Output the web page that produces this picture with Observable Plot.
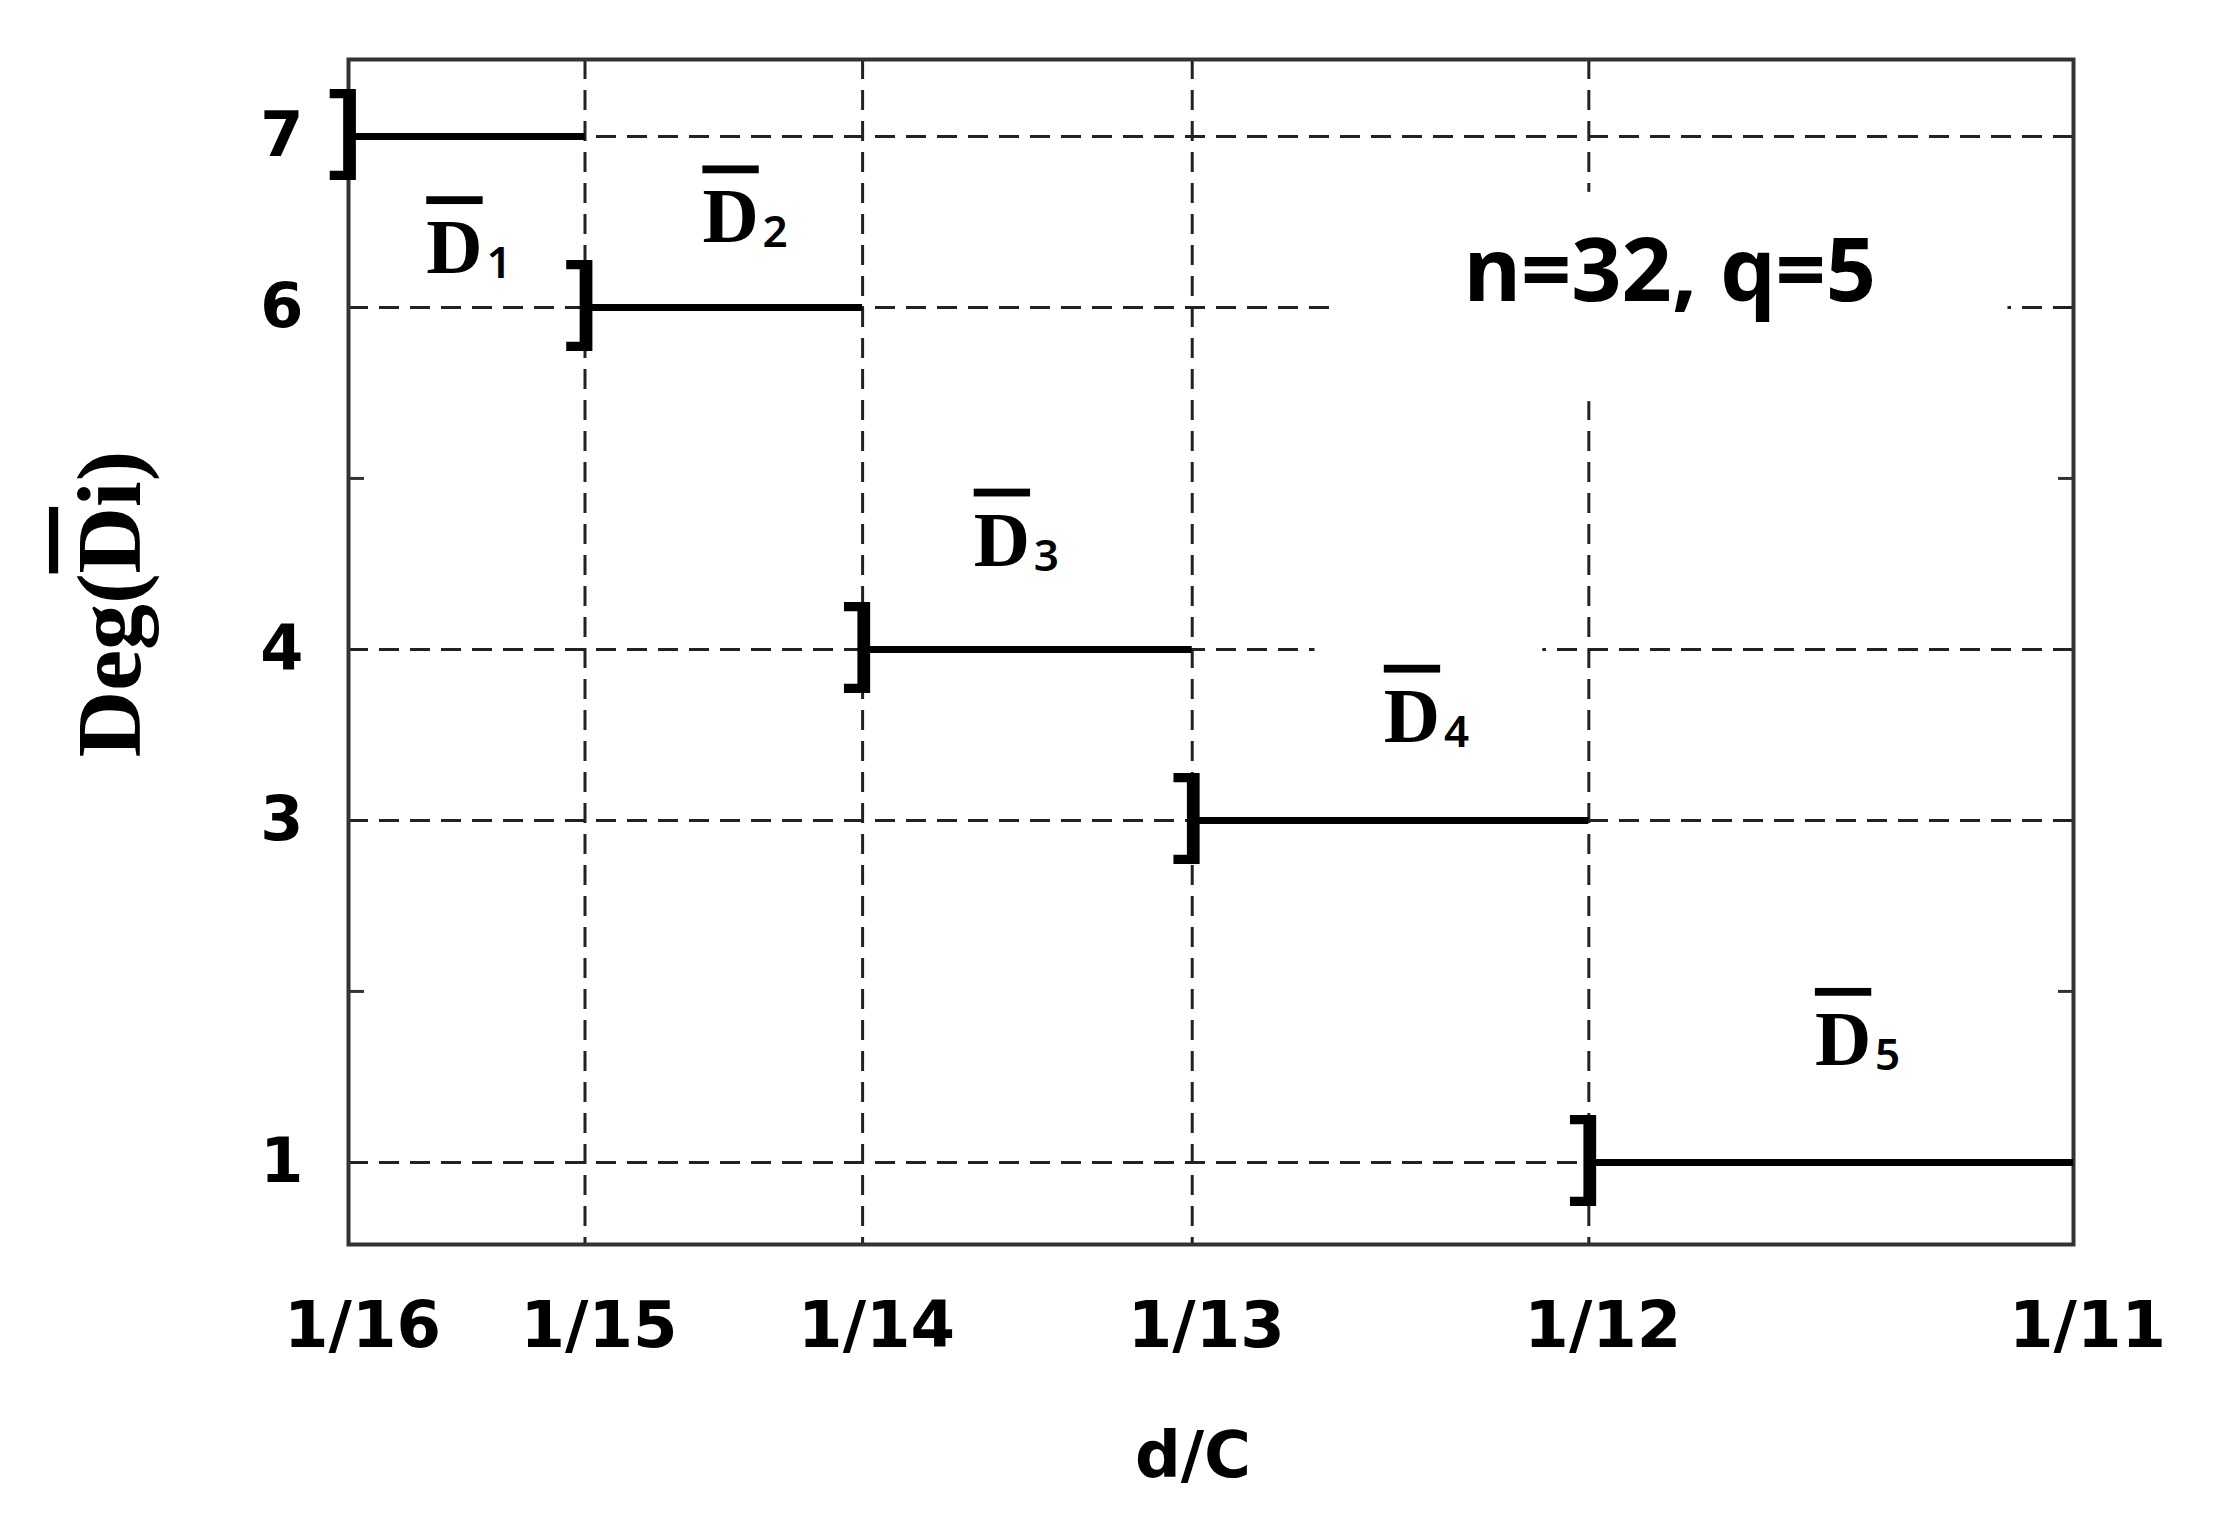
<!DOCTYPE html>
<html>
<head>
<meta charset="utf-8">
<script src="https://cdn.jsdelivr.net/npm/d3@7"></script>
<script src="https://cdn.jsdelivr.net/npm/@observablehq/plot@0.6"></script>
<style>
  html, body { margin: 0; padding: 0; background: #fff; }
  #chart svg { display: block; }
</style>
</head>
<body>
<div id="chart"></div>
<script>
// ---- data ----
const xDenominators = [16, 15, 14, 13, 12, 11];
const xTickLabels = ["1/16", "1/15", "1/14", "1/13", "1/12", "1/11"];
const yTicks = [7, 6, 4, 3, 1];
const yMinorTicks = [5, 2];

const stepStart = [1/16, 1/15, 1/14, 1/13, 1/12];
const stepEnd = [1/15, 1/14, 1/13, 1/12, 1/11];
const stepDegree = [7, 6, 4, 3, 1];

const labelIndex = ["1", "2", "3", "4", "5"];
const labelX = [0.06438, 0.06918, 0.07377, 0.08050, 0.08734];
const labelY = [6.20, 6.38, 4.49, 3.46, 1.57];

const noteText = ["n=32, q=5"];
const noteX = [0.08462];
const noteY = [6.036];

// white backing boxes of the annotations (data units)
const boxX1 = [0.07923, 0.07893];
const boxX2 = [0.08990, 0.08260];
const boxY1 = [6.673, 4.15];
const boxY2 = [5.449, 3.35];

const xAxisTitle = "d/C";
const yAxisTitle = "Deg(Di)";

// ---- tables ----
const xTickValues = xDenominators.map(d => 1 / d);
const xFmt = new Map(xTickValues.map((v, i) => [v, xTickLabels[i]]));
const steps = stepStart.map((s, i) => ({x1: s, x2: stepEnd[i], y: stepDegree[i]}));
const labels = labelX.map((x, i) => ({x, y: labelY[i], sub: labelIndex[i]}));
const notes = noteText.map((t, i) => ({x: noteX[i], y: noteY[i], t}));
const boxes = boxX1.map((x1, i) => ({x1, x2: boxX2[i], y1: boxY1[i], y2: boxY2[i]}));

const grid = {stroke: "#222", strokeWidth: 3, strokeDasharray: "20,11"};
const sansBold = {fontFamily: "DejaVu Sans", fontWeight: "bold", fill: "#000"};

const chart = Plot.plot({
  width: 2217,
  height: 1519,
  marginLeft: 348,
  marginRight: 144,
  marginTop: 59,
  marginBottom: 275,
  style: {background: "#fff", overflow: "visible", color: "#000"},
  x: {type: "pow", exponent: 1.4, domain: [1/16, 1/11], axis: null},
  y: {domain: [0.52, 7.45], axis: null},
  marks: [
    Plot.ruleX(xTickValues.slice(1, -1), grid),
    Plot.ruleY(yTicks, grid),
    Plot.rect(boxes, {x1: "x1", x2: "x2", y1: "y1", y2: "y2", fill: "#fff"}),
    Plot.frame({stroke: "#333", strokeWidth: 4}),
    Plot.axisY(yMinorTicks, {anchor: "left", tickSize: 16, dx: 16, strokeWidth: 3, stroke: "#333", tickFormat: () => "", label: null}),
    Plot.axisY(yMinorTicks, {anchor: "right", tickSize: 16, dx: -16, strokeWidth: 3, stroke: "#333", tickFormat: () => "", label: null}),
    Plot.axisY(yTicks, {anchor: "left", tickSize: 0, tickPadding: 45, fontSize: 62, ...sansBold, tickFormat: d => String(d), label: null}),
    Plot.axisX(xTickValues, {anchor: "bottom", tickSize: 0, tickPadding: 57, dx: 14, fontSize: 64, ...sansBold, tickFormat: d => xFmt.get(d), label: null}),
    Plot.ruleY(steps, {x1: "x1", x2: "x2", y: "y", stroke: "#000", strokeWidth: 7}),
    Plot.text(steps, {x: "x1", y: "y", text: () => "]", fontFamily: "Liberation Sans", fontWeight: "bold", fontSize: 99, textAnchor: "end", lineAnchor: "bottom", dx: 13, dy: 24, fill: "#000"}),
    Plot.text(labels, {x: "x", y: "y", text: () => "D", fontFamily: "Liberation Serif", fontWeight: "bold", fontSize: 78, textAnchor: "middle", lineAnchor: "bottom", fill: "#000"}),
    Plot.text(labels, {x: "x", y: "y", text: "sub", fontFamily: "Noto Sans", fontWeight: 600, fontSize: 44, textAnchor: "start", lineAnchor: "bottom", dx: 32, dy: 5, fill: "#000"}),
    Plot.text(notes, {x: "x", y: "y", text: "t", fontFamily: "Noto Sans", fontWeight: "bold", fontSize: 88, textAnchor: "middle", lineAnchor: "bottom", fill: "#000"}),
    Plot.text([xAxisTitle], {frameAnchor: "bottom", text: d => d, dy: 212, dx: -18, lineAnchor: "middle", fontSize: 64, ...sansBold}),
    Plot.text([yAxisTitle], {frameAnchor: "left", text: d => d, rotate: -90, dx: -238, dy: -48, lineAnchor: "middle", textAnchor: "middle", fontFamily: "Liberation Serif", fontWeight: "bold", fontSize: 92, fill: "#000"})
  ]
});

document.getElementById("chart").appendChild(chart);

// overlines on the "D" glyphs
const NS = "http://www.w3.org/2000/svg";
chart.querySelectorAll("text").forEach(t => {
  if (t.textContent === "D") {
    t.style.textDecoration = "overline";
    t.style.textDecorationThickness = "5px";
  } else if (t.textContent === yAxisTitle) {
    t.textContent = "";
    t.appendChild(document.createTextNode("Deg("));
    const ts = document.createElementNS(NS, "tspan");
    ts.textContent = "D";
    ts.style.textDecoration = "overline";
    ts.style.textDecorationThickness = "5px";
    t.appendChild(ts);
    t.appendChild(document.createTextNode("i)"));
  }
});
</script>
</body>
</html>
